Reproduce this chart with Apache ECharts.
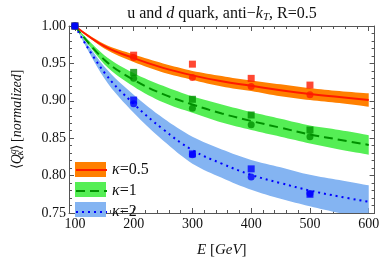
<!DOCTYPE html>
<html><head><meta charset="utf-8">
<script src="https://cdn.jsdelivr.net/npm/echarts@6/dist/echarts.min.js"></script>
<style>html,body{margin:0;padding:0;background:#fff}#c{width:382px;height:263px}</style>
</head><body><div id="c"></div>
<script>
// ---- data ----
const curveE = [100,150,200,250,300,350,400,450,500,550,600];
const line05 = [1.000,0.973,0.957,0.944,0.934,0.926,0.920,0.914,0.909,0.905,0.901];
const lo05   = [1.000,0.970,0.952,0.938,0.928,0.919,0.913,0.906,0.901,0.897,0.892];
const hi05   = [1.000,0.976,0.962,0.950,0.940,0.933,0.927,0.922,0.917,0.913,0.910];
const line1  = [1.000,0.955,0.928,0.909,0.895,0.883,0.873,0.864,0.855,0.848,0.841];
const lo1    = [1.000,0.949,0.919,0.898,0.884,0.871,0.861,0.852,0.843,0.835,0.828];
const hi1    = [1.000,0.961,0.937,0.920,0.906,0.895,0.885,0.876,0.867,0.861,0.854];
const line2  = [1.000,0.938,0.896,0.862,0.834,0.816,0.801,0.790,0.780,0.772,0.765];
const lo2    = [1.000,0.930,0.884,0.847,0.816,0.797,0.781,0.769,0.759,0.750,0.743];
const hi2    = [1.000,0.946,0.908,0.877,0.852,0.835,0.821,0.811,0.801,0.794,0.787];

const pointE = [100,200,300,400,500];
const sq05 = [1.000,0.961,0.949,0.930,0.921];
const ci05 = [1.000,0.958,0.931,0.919,0.908];
const sq1  = [1.000,0.938,0.902,0.881,0.861];
const ci1  = [1.000,0.930,0.890,0.868,0.852];
const sq2  = [1.000,0.901,0.829,0.809,0.775];
const ci2  = [1.000,0.896,0.828,0.798,0.776];

const xMajor = [100,200,300,400,500,600];
const xMinor = [120,140,160,180,220,240,260,280,320,340,360,380,420,440,460,480,520,540,560,580];
const yMajor = [0.75,0.80,0.85,0.90,0.95,1.00];
const yMinor = [0.76,0.77,0.78,0.79,0.81,0.82,0.83,0.84,0.86,0.87,0.88,0.89,0.91,0.92,0.93,0.94,0.96,0.97,0.98,0.99];

const names = ['κ=0.5','κ=1','κ=2'];
// ---- build ----
const zip = (xs, ys) => xs.map((x,i)=>[x, ys[i]]);
const serif = 'Liberation Serif';
const frame = '#555';
const bandCols = ['#FF8000','#55EE55','#84B4F2'];
const lineCols = ['#FF1A00','#009000','#0000FF'];
const lineTypes = ['solid',[9,5],[2,4]];
const lines = [line05,line1,line2], los=[lo05,lo1,lo2], his=[hi05,hi1,hi2];
const sqs=[sq05,sq1,sq2], cis=[ci05,ci1,ci2];

// Catmull-Rom sampling in pixel space (rendering of library-mapped points)
function spline(pts, n){
  const out=[];
  for(let i=0;i<pts.length-1;i++){
    const p0=pts[Math.max(i-1,0)], p1=pts[i], p2=pts[i+1], p3=pts[Math.min(i+2,pts.length-1)];
    for(let s=0;s<n;s++){
      const t=s/n, t2=t*t, t3=t2*t;
      out.push([0,1].map(d=>0.5*((2*p1[d])+(-p0[d]+p2[d])*t+(2*p0[d]-5*p1[d]+4*p2[d]-p3[d])*t2+(-p0[d]+3*p1[d]-3*p2[d]+p3[d])*t3)));
    }
  }
  out.push(pts[pts.length-1]);
  return out;
}

const series = [];
for (let k=0;k<3;k++){
  series.push({type:'custom', name:'band'+k, coordinateSystem:'cartesian2d', clip:true, silent:true, z:1,
    itemStyle:{color:bandCols[k]},
    data:curveE.map((e,i)=>[e, los[k][i], his[k][i]]),
    encode:{x:0, y:[1,2]},
    renderItem:(params, api)=>{
      if (params.dataIndex !== 0) return;
      const up = spline(curveE.map((e,i)=>api.coord([e, his[k][i]])), 8);
      const dn = spline(curveE.map((e,i)=>api.coord([e, los[k][i]])), 8).reverse();
      return {type:'polygon', shape:{points:up.concat(dn)}, style:{fill:bandCols[k]}};
    }});
}
for (let k=0;k<3;k++){
  series.push({type:'line', name:names[k], data:zip(curveE, lines[k]), smooth:0.4, symbol:'none',
    itemStyle:{color:lineCols[k]}, lineStyle:{color:lineCols[k], width:2, type:lineTypes[k]}, z:3});
}
for (let k=0;k<3;k++){
  series.push({type:'scatter', name:'sq'+k, data:zip(pointE, sqs[k]), symbol:'rect', symbolSize:7,
    itemStyle:{color:lineCols[k]}, z:4});
  series.push({type:'scatter', name:'ci'+k, data:zip(pointE, cis[k]), symbol:'circle', symbolSize:7,
    itemStyle:{color:lineCols[k]}, z:4});
}

const xBase = {type:'value', min:90, max:610, splitLine:{show:false}, axisLine:{show:true,lineStyle:{color:frame,width:1}}};
const yBase = {type:'value', min:0.75, max:1.0, splitLine:{show:false}, axisLine:{show:true,lineStyle:{color:frame,width:1}}};
const tickStyle = {color:frame,width:1};

const option = {
  animation:false,
  title:{text:'u and {i|d} quark, anti−{i|k}{sub|T}, R=0.5', left:217, top:0, textAlign:'center',
    textStyle:{fontFamily:serif, fontSize:16, fontWeight:'normal', color:'#111',
      rich:{i:{fontFamily:serif,fontSize:16,fontStyle:'italic',color:'#111'},
            sub:{fontFamily:serif,fontSize:11,fontStyle:'italic',color:'#111',padding:[7,0,0,0]}}}},
  grid:{left:57, right:5, top:26, bottom:41},
  xAxis:[
    Object.assign({}, xBase, {position:'bottom', name:'{i|E} [{i|GeV}]', nameLocation:'middle', nameGap:30,
      nameTextStyle:{fontFamily:serif,fontSize:15,color:'#111',rich:{i:{fontFamily:serif,fontSize:15,fontStyle:'italic',color:'#111'}}},
      axisTick:{show:true,inside:true,length:5,lineStyle:tickStyle,customValues:xMajor},
      axisLabel:{show:true,customValues:xMajor,fontFamily:serif,fontSize:14,color:'#111',margin:4}}),
    Object.assign({}, xBase, {position:'bottom', axisLine:{show:false},
      axisTick:{show:true,inside:true,length:3,lineStyle:tickStyle,customValues:xMinor}, axisLabel:{show:false}}),
    Object.assign({}, xBase, {position:'top',
      axisTick:{show:true,inside:true,length:5,lineStyle:tickStyle,customValues:xMajor}, axisLabel:{show:false}}),
    Object.assign({}, xBase, {position:'top', axisLine:{show:false},
      axisTick:{show:true,inside:true,length:3,lineStyle:tickStyle,customValues:xMinor}, axisLabel:{show:false}})
  ],
  yAxis:[
    Object.assign({}, yBase, {position:'left', name:'⟨{i|Q}{sup|q}{sub|κ}⟩ [{i|normalized}]', nameLocation:'middle', nameGap:42,
      nameTextStyle:{fontFamily:serif,fontSize:14,color:'#111',rich:{
        i:{fontFamily:serif,fontSize:14,fontStyle:'italic',color:'#111'},
        sup:{fontFamily:serif,fontSize:10,fontStyle:'italic',color:'#111',padding:[0,0,9,0]},
        sub:{fontFamily:serif,fontSize:10,fontStyle:'italic',color:'#111',padding:[6,0,0,-6]}}},
      axisTick:{show:true,inside:true,length:5,lineStyle:tickStyle,customValues:yMajor},
      axisLabel:{show:true,customValues:yMajor,fontFamily:serif,fontSize:14,color:'#111',margin:3,formatter:v=>v.toFixed(2)}}),
    Object.assign({}, yBase, {position:'left', axisLine:{show:false},
      axisTick:{show:true,inside:true,length:3,lineStyle:tickStyle,customValues:yMinor}, axisLabel:{show:false}}),
    Object.assign({}, yBase, {position:'right',
      axisTick:{show:true,inside:true,length:5,lineStyle:tickStyle,customValues:yMajor}, axisLabel:{show:false}}),
    Object.assign({}, yBase, {position:'right', axisLine:{show:false},
      axisTick:{show:true,inside:true,length:3,lineStyle:tickStyle,customValues:yMinor}, axisLabel:{show:false}})
  ],
  legend:[
    {data:['band0','band1','band2'], orient:'vertical', left:70, top:157, itemWidth:31, itemHeight:15, itemGap:5,
     icon:'rect', selectedMode:false, formatter:()=>'', textStyle:{fontSize:15,lineHeight:15}},
    {data:names, orient:'vertical', left:70, top:157, itemWidth:31, itemHeight:15, itemGap:5,
     selectedMode:false, itemStyle:{opacity:0}, formatter:n=>'{i|κ}'+n.slice(1),
     textStyle:{fontFamily:serif,fontSize:16,lineHeight:15,color:'#111',
       rich:{i:{fontFamily:serif,fontSize:16,lineHeight:15,fontStyle:'italic',color:'#111'}}}}
  ],
  series: series
};
const chart = echarts.init(document.getElementById('c'), null, {renderer:'canvas'});
chart.setOption(option);
</script></body></html>
